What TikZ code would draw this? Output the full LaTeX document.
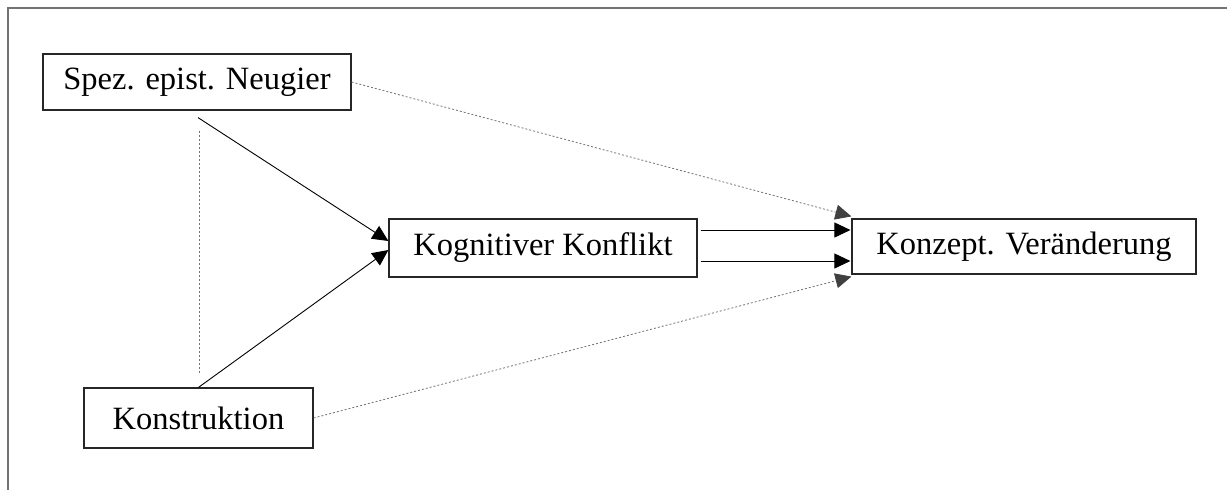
\documentclass[tikz,border=0pt]{standalone}
\usepackage{fontspec}
\setmainfont{Liberation Serif}
\usetikzlibrary{arrows.meta,calc}
\begin{document}
\begin{tikzpicture}[x=1pt,y=-1pt,
  box/.style={draw=black!85,line width=1.2pt,inner sep=0pt,font=\fontsize{32.5}{38}\selectfont},
  solidarrow/.style={draw=black,line width=0.9pt,-{Triangle[length=16pt,width=15pt]}},
  dotarrow/.style={draw=black!55,line width=0.8pt,dash pattern=on 2pt off 2pt,-{Triangle[length=16pt,width=15pt,color=black!75,fill=black!75]}},
  dotline/.style={draw=black!55,line width=0.8pt,dash pattern=on 2pt off 2pt},
  frameline/.style={draw=black!55,line width=2pt}]
\useasboundingbox (0,0) rectangle (1227,490);
\coordinate (f1) at (7.5,490);
\coordinate (f2) at (7.5,7.5);
\coordinate (f3) at (1227,7.5);
\draw[frameline] (f1) -- (f2) -- (f3);
\node[box,minimum width=308pt,minimum height=56pt] (spez) at (197,82) {Spez. epist. Neugier};
\node[box,minimum width=229pt,minimum height=60pt] (konstr) at (198.5,418) {Konstruktion};
\node[box,minimum width=308pt,minimum height=58pt] (kogn) at (543,248) {Kognitiver Konflikt};
\node[box,minimum width=344pt,minimum height=55pt] (konz) at (1024,246.5) {Konzept. Veränderung};
% dotted correlation
\draw[dotline] ($(spez.south)+(2,20)$) -- ($(konstr.north)+(0.5,-14)$);
% paths to conflict
\draw[solidarrow] ($(spez.south)+(1,7)$) -- ($(kogn.west)+(0,-7)$);
\draw[solidarrow] (konstr.north) -- ($(kogn.west)+(0,2)$);
% conflict to change
\draw[solidarrow] ($(kogn.east)+(3,-18)$) -- ($(konz.west)+(-1,-16.5)$);
\draw[solidarrow] ($(kogn.east)+(3,13)$) -- ($(konz.west)+(-1,14.5)$);
% direct dotted effects
\draw[dotarrow] (spez.east) -- ($(konz.north west)+(0,-2)$);
\draw[dotarrow] (konstr.east) -- ($(konz.south west)+(0,2)$);
\end{tikzpicture}
\end{document}
